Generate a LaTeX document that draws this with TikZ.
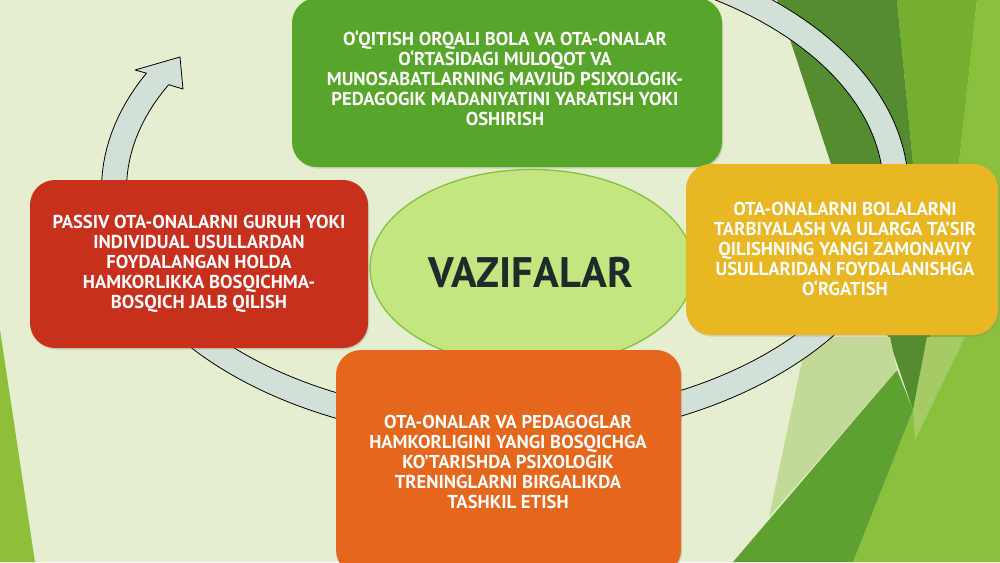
\documentclass[tikz,border=0pt]{standalone}
\usepackage{fontspec}
\setmainfont{PT Sans}
\usetikzlibrary{shapes.geometric,shadows}
\definecolor{bgc}{HTML}{E5EFCF}
\definecolor{stripc}{HTML}{8DBF3A}
\definecolor{darkg}{HTML}{538D30}
\definecolor{medg}{HTML}{76AE30}
\definecolor{brightg}{HTML}{8AC03C}
\definecolor{shardg}{HTML}{5EA031}
\definecolor{paleg}{HTML}{C2DA96}
\definecolor{paleg2}{HTML}{A6CB66}
\definecolor{bandc}{HTML}{D3E0D6}
\definecolor{greenbox}{HTML}{57A62B}
\definecolor{redbox}{HTML}{C8301E}
\definecolor{yellowbox}{HTML}{E8B723}
\definecolor{orangebox}{HTML}{E5671B}
\definecolor{ellfill}{HTML}{C4E57F}
\definecolor{elldraw}{HTML}{82C341}
\definecolor{titlec}{HTML}{1E2B2B}
\tikzset{
  boxshape/.style={rounded corners=18.75pt, inner sep=0pt,
    drop shadow={opacity=0.25, shadow xshift=0.8pt, shadow yshift=-1.2pt}},
  boxtext/.style={text=white, align=center, inner sep=0pt,
    font=\bfseries\fontsize{14}{15}\selectfont},
  bandstyle/.style={fill=bandc, draw=black, line width=0.6pt, line join=round}
}
\begin{document}
\begin{tikzpicture}[x=0.75pt,y=-0.75pt]
\useasboundingbox (0,0) rectangle (1000,562);
\clip (0,0) rectangle (1000,562);
% background
\fill[bgc] (0,0) rectangle (1000,562);
\fill[stripc] (0,330) -- (35,562) -- (0,562) -- cycle;
\fill[brightg] (977,0) -- (1000,0) -- (1000,562) -- (853,562) -- (913,410) -- (930,337) -- (955,200) -- cycle;
\fill[medg] (897,0) -- (977,0) -- (955,200) -- (930,337) -- cycle;
\fill[darkg] (777,0) -- (897,0) -- (930,337) -- (913,410) -- (888,337) -- cycle;
\fill[paleg2] (927,337) -- (965,337) -- (915,440) -- (913,410) -- cycle;
\fill[shardg] (733,562) -- (897,370) -- (913,410) -- (853,562) -- cycle;
\fill[paleg] (807,337) -- (890,337) -- (897,370) -- (769,517) -- cycle;
% circular arrow
\draw[bandstyle]
  plot[domain=-80:207.3, samples=160, variable=\t] ({505+403.5*cos(\t)},{189+252.5*sin(\t)})
  -- (135,70) -- (180,57) -- (183,89)
  -- plot[domain=207.3:-80, samples=160, variable=\t] ({505+378.5*cos(\t)},{189+227.5*sin(\t)})
  -- cycle;
% centre ellipse
\node[ellipse, draw=elldraw, line width=1pt, fill=ellfill, minimum width=243pt, minimum height=147.75pt, inner sep=0pt] (centre) at (532,268) {};
\node[text=titlec, font=\bfseries\fontsize{32}{38}\selectfont, inner sep=0pt] (title) at (531,272) {VAZIFALAR};
% boxes
\node[boxshape, fill=greenbox, minimum width=322.5pt, minimum height=126.75pt] (gbox) at (507,82.5) {};
\node[boxshape, fill=redbox, minimum width=253.5pt, minimum height=126pt] (rbox) at (199,264) {};
\node[boxshape, fill=yellowbox, minimum width=234pt, minimum height=128.25pt] (ybox) at (842,249.5) {};
\node[boxshape, fill=orangebox, minimum width=258.75pt, minimum height=168.75pt] (obox) at (508.5,462.5) {};
% texts
\node[boxtext] (gtext) at (505,78) {O‘QITISH ORQALI BOLA VA OTA-ONALAR\\O‘RTASIDAGI MULOQOT VA\\MUNOSABATLARNING MAVJUD PSIXOLOGIK-\\PEDAGOGIK MADANIYATINI YARATISH YOKI\\OSHIRISH};
\node[boxtext] (rtext) at (199,264) {PASSIV OTA-ONALARNI GURUH YOKI\\INDIVIDUAL USULLARDAN\\FOYDALANGAN HOLDA\\HAMKORLIKKA BOSQICHMA-\\BOSQICH JALB QILISH};
\node[boxtext] (ytext) at (845,249) {OTA-ONALARNI BOLALARNI\\TARBIYALASH VA ULARGA TA’SIR\\QILISHNING YANGI ZAMONAVIY\\USULLARIDAN FOYDALANISHGA\\O‘RGATISH};
\node[boxtext] (otext) at (508,462) {OTA-ONALAR VA PEDAGOGLAR\\HAMKORLIGINI YANGI BOSQICHGA\\KO’TARISHDA PSIXOLOGIK\\TRENINGLARNI BIRGALIKDA\\TASHKIL ETISH};
\end{tikzpicture}
\end{document}
